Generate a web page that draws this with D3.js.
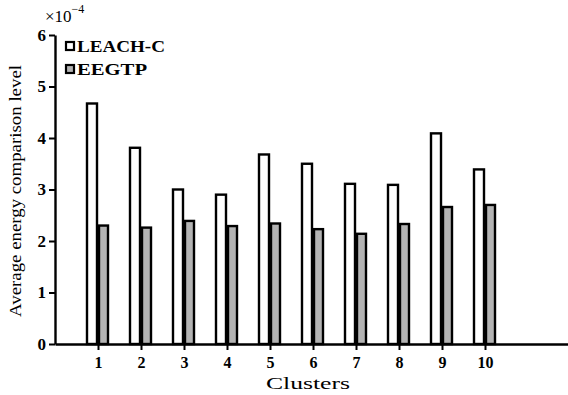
<!DOCTYPE html>
<html>
<head>
<meta charset="utf-8">
<script src="https://cdn.jsdelivr.net/npm/d3@7/dist/d3.min.js"></script>
<style>
  body { margin: 0; background: #fff; }
  svg text { font-family: "Times New Roman", "Liberation Serif", Times, serif; fill: #000; }
</style>
</head>
<body>
<svg id="chart" width="568" height="395"></svg>
<script>
// data (values x 10^-4)
var clusters = [1, 2, 3, 4, 5, 6, 7, 8, 9, 10];
var leachC = [4.67, 3.81, 3.0, 2.9, 3.68, 3.5, 3.11, 3.09, 4.09, 3.39];
var eegtp  = [2.3, 2.26, 2.39, 2.29, 2.34, 2.23, 2.14, 2.33, 2.66, 2.7];
var yTicks = [0, 1, 2, 3, 4, 5, 6];
var seriesNames = ["LEACH-C", "EEGTP"];
var seriesFill = ["#ffffff", "#b3b3b3"];

var serif = "'Times New Roman', 'Liberation Serif', Times, serif";
var svg = d3.select("#chart");
var x0 = 55, yBase = 344, yTop = 35;

var x = d3.scaleLinear().domain([0, 12]).range([x0, 571]);
var y = d3.scaleLinear().domain([0, 6]).range([yBase, yTop]);

var barW = 10;

// bars
var g = svg.append("g");
g.selectAll("rect.leach")
  .data(clusters)
  .enter().append("rect")
  .attr("class", "leach")
  .attr("x", function (d) { return x(d) - barW - 1; })
  .attr("y", function (d, i) { return y(leachC[i]); })
  .attr("width", barW)
  .attr("height", function (d, i) { return yBase - y(leachC[i]); })
  .attr("fill", seriesFill[0])
  .attr("stroke", "#000")
  .attr("stroke-width", 2.4);

g.selectAll("rect.eegtp")
  .data(clusters)
  .enter().append("rect")
  .attr("class", "eegtp")
  .attr("x", function (d) { return x(d) + 1; })
  .attr("y", function (d, i) { return y(eegtp[i]); })
  .attr("width", barW - 1)
  .attr("height", function (d, i) { return yBase - y(eegtp[i]); })
  .attr("fill", seriesFill[1])
  .attr("stroke", "#000")
  .attr("stroke-width", 2.4);

// x axis
var xAxis = d3.axisBottom(x).tickValues(clusters).tickFormat(d3.format("d"))
  .tickSize(6).tickPadding(7).tickSizeOuter(0);
var gx = svg.append("g").attr("transform", "translate(0," + yBase + ")").call(xAxis);
gx.select(".domain").attr("stroke", "#000").attr("stroke-width", 2.4);
gx.selectAll(".tick line").attr("stroke", "#000").attr("stroke-width", 2);
gx.selectAll("text").attr("font-size", 16).attr("font-weight", "bold")
  .attr("font-family", serif);

// y axis
var yAxis = d3.axisLeft(y).tickValues(yTicks).tickFormat(d3.format("d"))
  .tickSize(6).tickPadding(3).tickSizeOuter(0);
var gy = svg.append("g").attr("transform", "translate(" + x0 + ",0)").call(yAxis);
gy.select(".domain").attr("stroke", "#000").attr("stroke-width", 2.4);
gy.selectAll(".tick line").attr("stroke", "#000").attr("stroke-width", 2);
gy.selectAll("text").attr("font-size", 17).attr("font-weight", "bold")
  .attr("font-family", serif);

// exponent label
var ex = svg.append("text").attr("x", 45).attr("y", 22).attr("font-size", 17);
ex.append("tspan").text("\u00d710");
ex.append("tspan").attr("dy", -9).attr("font-size", 12).text("\u22124");

// axis titles
svg.append("text")
  .attr("transform", "translate(21,191) rotate(-90)")
  .attr("text-anchor", "middle")
  .attr("font-size", 17)
  .attr("textLength", 252)
  .attr("lengthAdjust", "spacingAndGlyphs")
  .text("Average energy comparison level");

svg.append("text")
  .attr("x", 266).attr("y", 389)
  .attr("font-size", 16)
  .attr("textLength", 84)
  .attr("lengthAdjust", "spacingAndGlyphs")
  .text("Clusters");

// legend
var legendWidths = [88, 70];
var leg = svg.append("g");
seriesNames.forEach(function (name, i) {
  var ly = 42 + i * 23;
  leg.append("rect")
    .attr("x", 66).attr("y", ly)
    .attr("width", 8).attr("height", 8)
    .attr("fill", seriesFill[i])
    .attr("stroke", "#000").attr("stroke-width", 2.2);
  leg.append("text")
    .attr("x", 77).attr("y", ly + 10)
    .attr("font-size", 16).attr("font-weight", "bold")
    .attr("textLength", legendWidths[i])
    .attr("lengthAdjust", "spacingAndGlyphs")
    .text(name);
});
</script>
</body>
</html>
